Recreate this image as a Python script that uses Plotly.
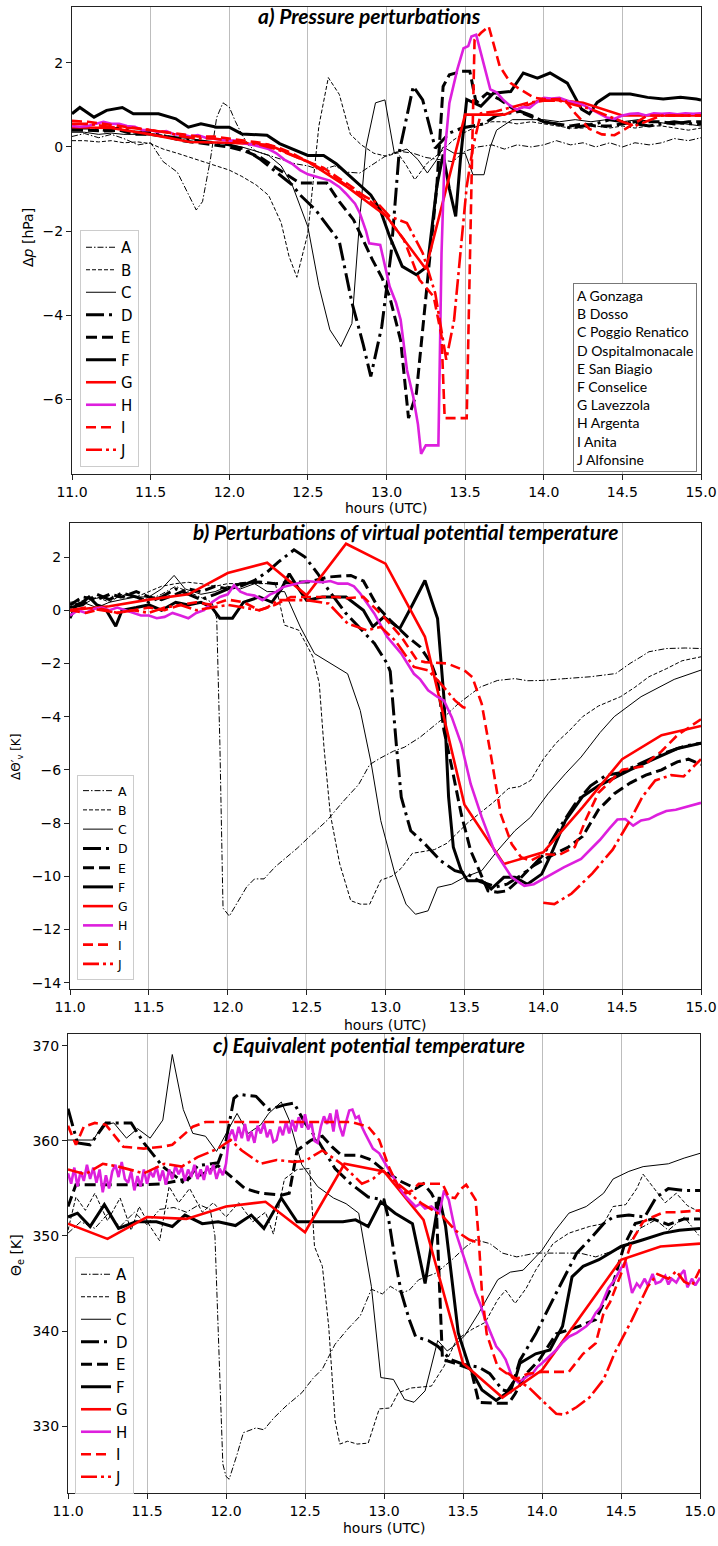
import plotly.graph_objects as go

# ---------------- DATA ----------------
SERIES = ["A", "B", "C", "D", "E", "F", "G", "H", "I", "J"]
STATIONS = ["A Gonzaga", "B Dosso", "C Poggio Renatico", "D Ospitalmonacale", "E San Biagio",
            "F Conselice", "G Lavezzola", "H Argenta", "I Anita", "J Alfonsine"]
X_TICKS = [11.0, 11.5, 12.0, 12.5, 13.0, 13.5, 14.0, 14.5, 15.0]
YTICKS_A = [-6, -4, -2, 0, 2]
YTICKS_B = [-14, -12, -10, -8, -6, -4, -2, 0, 2]
YTICKS_C = [330, 340, 350, 360, 370]

# ---- panel a: pressure perturbations [hPa]
pa_A_t = [11.0, 11.08, 11.17, 11.25, 11.33, 11.42, 11.5, 11.58, 11.67, 11.75,
          11.79, 11.83, 11.88, 11.92, 11.96, 12.0, 12.04, 12.08, 12.12, 12.17,
          12.25, 12.33, 12.42, 12.5, 12.58, 12.67, 12.75, 12.83, 12.92, 13.0,
          13.08, 13.17, 13.25, 13.33, 13.42, 13.5, 13.58, 13.67, 13.75, 13.83,
          13.92, 14.0, 14.08, 14.17, 14.25, 14.33, 14.42, 14.5, 14.58, 14.67,
          14.75, 14.83, 14.92, 15.0]
pa_A_v = [0.25, 0.32, 0.22, 0.3, 0.2, 0.05, 0.1, -0.35, -0.6, -1.2,
          -1.5, -1.3, -0.3, 0.7, 1.05, 0.95, 0.6, 0.3, 0.05, -0.1,
          -0.2, -0.3, -0.4, -0.45, -0.55, -0.45, -0.6, -0.62, -0.4, -0.2,
          -0.1, -0.15, -0.25, -0.3, -0.35, -0.1, 0.0, 0.05, -0.05, 0.05,
          0.0, 0.05, 0.15, 0.05, 0.1, 0.0, 0.1, 0.0, 0.1, 0.05,
          0.1, 0.2, 0.15, 0.22]
pa_B_t = [11.0, 11.08, 11.17, 11.25, 11.33, 11.42, 11.5, 11.58, 11.67, 11.75,
          11.83, 11.92, 12.0, 12.08, 12.17, 12.25, 12.33, 12.38, 12.43, 12.5,
          12.57, 12.63, 12.7, 12.77, 12.84, 12.92, 13.0, 13.07, 13.12, 13.18,
          13.26, 13.34, 13.42, 13.5, 13.58, 13.67, 13.75, 13.83, 13.92, 14.0,
          14.08, 14.17, 14.25, 14.33, 14.42, 14.5, 14.58, 14.67, 14.75, 14.83,
          14.92, 15.0]
pa_B_v = [0.15, 0.15, 0.12, 0.15, 0.1, 0.12, 0.08, -0.05, -0.15, -0.25,
          -0.35, -0.45, -0.55, -0.7, -0.9, -1.15, -1.8, -2.6, -3.1, -2.05,
          0.5, 1.65, 1.25, 0.3, 0.05, -0.15, -0.22, -0.14, -0.4, -0.78,
          -0.38, -0.14, 0.15, 0.35, 0.5, 0.6, 0.6, 0.55, 0.6, 0.55,
          0.5, 0.45, 0.45, 0.5, 0.45, 0.5, 0.45, 0.5, 0.5, 0.45,
          0.4, 0.45]
pa_C_t = [11.0, 11.08, 11.17, 11.25, 11.33, 11.42, 11.5, 11.58, 11.67, 11.75,
          11.83, 11.92, 12.0, 12.08, 12.17, 12.25, 12.33, 12.4, 12.5, 12.57,
          12.64, 12.71, 12.78, 12.83, 12.87, 12.93, 12.99, 13.05, 13.13, 13.2,
          13.26, 13.32, 13.36, 13.43, 13.5, 13.55, 13.62, 13.66, 13.7, 13.8,
          13.9, 14.0, 14.1, 14.2, 14.3, 14.4, 14.5, 14.6, 14.7, 14.8,
          14.9, 15.0]
pa_C_v = [0.35, 0.35, 0.3, 0.33, 0.3, 0.3, 0.28, 0.25, 0.22, 0.2,
          0.15, 0.1, 0.05, 0.0, -0.1, -0.2, -0.45, -0.9, -1.9, -3.3,
          -4.35, -4.75, -4.2, -1.7, 0.0, 1.05, 1.12, -0.15, -0.05, -0.3,
          -0.62, -0.3, 0.0, -0.15, -0.15, -0.66, -0.66, 0.0, 0.4, 0.65,
          0.65, 0.65, 0.6, 0.65, 0.6, 0.65, 0.6, 0.65, 0.6, 0.55,
          0.55, 0.5]
pa_D_t = [11.0, 11.1, 11.2, 11.3, 11.4, 11.5, 11.6, 11.7, 11.8, 11.9,
          12.0, 12.1, 12.2, 12.3, 12.4, 12.45, 12.55, 12.63, 12.7, 12.78,
          12.85, 12.9, 12.97, 13.03, 13.08, 13.17, 13.23, 13.31, 13.4, 13.48,
          13.55, 13.62, 13.7, 13.78, 13.85, 13.92, 14.0, 14.08, 14.17, 14.25,
          14.33, 14.42, 14.5, 14.58, 14.67, 14.75, 14.83, 14.92, 15.0]
pa_D_v = [0.45, 0.45, 0.4, 0.45, 0.35, 0.35, 0.25, 0.2, 0.15, 0.1,
          0.05, -0.05, -0.3, -0.6, -0.9, -1.14, -1.5, -1.9, -2.25, -3.7,
          -4.67, -5.46, -4.27, -2.5, -0.14, 1.44, 1.12, -0.03, 0.33, 0.45,
          0.5, 0.55, 0.75, 0.8, 0.85, 0.75, 0.6, 0.55, 0.45, 0.5,
          0.55, 0.65, 0.6, 0.55, 0.5, 0.55, 0.6, 0.55, 0.55]
pa_E_t = [11.0, 11.1, 11.2, 11.3, 11.4, 11.5, 11.6, 11.7, 11.8, 11.9,
          12.0, 12.1, 12.2, 12.3, 12.38, 12.45, 12.55, 12.62, 12.7, 12.79,
          12.85, 12.91, 12.97, 13.02, 13.09, 13.14, 13.19, 13.26, 13.32, 13.36,
          13.4, 13.48, 13.53, 13.57, 13.64, 13.72, 13.81, 13.9, 14.0, 14.08,
          14.17, 14.25, 14.33, 14.42, 14.5, 14.58, 14.67, 14.75, 14.83, 14.92,
          15.0]
pa_E_v = [0.4, 0.4, 0.38, 0.4, 0.3, 0.3, 0.25, 0.15, 0.1, 0.05,
          0.0, -0.1, -0.25, -0.5, -0.7, -0.86, -0.86, -0.86, -1.3, -1.73,
          -2.2, -2.68, -3.1, -3.56, -4.6, -6.45, -5.86, -3.3, -0.94, 1.44,
          1.72, 1.8, 1.8, 1.05, 1.28, 1.13, 0.9, 0.75, 0.6, 0.55,
          0.5, 0.55, 0.5, 0.5, 0.55, 0.6, 0.6, 0.6, 0.55, 0.6,
          0.6]
pa_F_t = [11.0, 11.05, 11.14, 11.22, 11.32, 11.39, 11.55, 11.66, 11.74, 11.82,
          11.92, 12.0, 12.08, 12.24, 12.32, 12.4, 12.5, 12.6, 12.68, 12.76,
          12.83, 12.9, 12.96, 13.02, 13.1, 13.19, 13.26, 13.32, 13.36, 13.4,
          13.44, 13.47, 13.51, 13.6, 13.68, 13.79, 13.87, 13.96, 14.04, 14.15,
          14.24, 14.29, 14.34, 14.42, 14.55, 14.66, 14.76, 14.87, 14.97, 15.0]
pa_F_v = [0.79, 0.94, 0.71, 0.87, 0.94, 0.79, 0.79, 0.67, 0.47, 0.55,
          0.47, 0.47, 0.31, 0.28, 0.08, -0.05, -0.2, -0.2, -0.4, -0.67,
          -0.9, -1.14, -1.5, -2.13, -2.84, -3.04, -2.84, -0.94, -0.18, -1.0,
          -1.65, -0.3, 1.13, 0.97, 1.28, 1.32, 1.76, 1.64, 1.76, 1.52,
          0.9, 0.79, 1.06, 1.26, 1.26, 1.18, 1.14, 1.18, 1.14, 1.12]
pa_G_t = [11.0, 11.25, 11.5, 11.75, 12.0, 12.25, 12.5, 12.75, 13.0, 13.25,
          13.5, 13.75, 14.0, 14.25, 14.5, 14.75, 15.0]
pa_G_v = [0.47, 0.45, 0.3, 0.12, 0.1, 0.05, -0.35, -0.95, -1.65, -2.9,
          0.77, 0.77, 1.15, 1.05, 0.75, 0.75, 0.75]
pa_H_t = [11.0, 11.05, 11.1, 11.15, 11.2, 11.25, 11.3, 11.35, 11.4, 11.45,
          11.5, 11.55, 11.6, 11.65, 11.7, 11.75, 11.8, 11.85, 11.9, 11.95,
          12.0, 12.05, 12.1, 12.15, 12.2, 12.25, 12.3, 12.35, 12.4, 12.45,
          12.5, 12.55, 12.6, 12.64, 12.7, 12.74, 12.8, 12.83, 12.87, 12.89,
          12.96, 13.0, 13.02, 13.06, 13.09, 13.13, 13.17, 13.2, 13.22, 13.25,
          13.33, 13.35, 13.37, 13.4, 13.45, 13.49, 13.52, 13.54, 13.57, 13.6,
          13.63, 13.66, 13.7, 13.74, 13.78, 13.83, 13.87, 13.91, 13.95, 14.0,
          14.05, 14.1, 14.15, 14.2, 14.25, 14.3, 14.35, 14.4, 14.45, 14.5,
          14.55, 14.6, 14.65, 14.7, 14.75, 14.8, 14.85, 14.9, 14.95, 15.0]
pa_H_v = [0.5, 0.48, 0.5, 0.55, 0.6, 0.55, 0.55, 0.5, 0.48, 0.4,
          0.4, 0.35, 0.38, 0.3, 0.3, 0.25, 0.28, 0.22, 0.2, 0.18,
          0.15, 0.15, 0.08, 0.05, 0.0, -0.05, -0.15, -0.3, -0.4, -0.55,
          -0.65, -0.7, -0.75, -0.8, -0.95, -1.1, -1.35, -1.57, -2.0, -2.29,
          -2.33, -3.0, -3.32, -3.7, -4.11, -5.3, -5.94, -6.6, -7.3, -7.1,
          -7.1, -2.52, -0.14, 1.05, 1.84, 2.35, 2.4, 2.63, 2.67, 2.24,
          1.8, 1.37, 1.3, 1.13, 1.0, 0.89, 0.95, 0.93, 1.05, 1.17,
          1.15, 1.17, 1.1, 1.05, 1.0, 0.9, 0.8, 0.7, 0.67, 0.75,
          0.79, 0.8, 0.75, 0.8, 0.79, 0.8, 0.78, 0.8, 0.79, 0.8]
pa_I_t = [11.0, 11.1, 11.2, 11.3, 11.4, 11.5, 11.6, 11.7, 11.8, 11.9,
          12.0, 12.1, 12.2, 12.3, 12.4, 12.5, 12.6, 12.7, 12.8, 12.9,
          13.0, 13.11, 13.21, 13.3, 13.35, 13.37, 13.51, 13.54, 13.56, 13.6,
          13.65, 13.72, 13.79, 13.85, 13.94, 14.02, 14.13, 14.2, 14.29, 14.37,
          14.45, 14.55, 14.66, 14.75, 14.85, 15.0]
pa_I_v = [0.62, 0.6, 0.55, 0.5, 0.45, 0.4, 0.35, 0.3, 0.25, 0.25,
          0.2, 0.15, 0.1, 0.0, -0.15, -0.35, -0.5, -0.75, -1.0, -1.3,
          -1.65, -2.2, -3.16, -3.56, -4.5, -6.45, -6.45, -0.94, 2.55, 2.71,
          2.87, 1.92, 1.52, 1.37, 1.17, 1.13, 1.14, 0.8, 0.43, 0.3,
          0.28, 0.5, 0.75, 0.75, 0.75, 0.75]
pa_J_t = [11.0, 11.1, 11.2, 11.3, 11.4, 11.5, 11.6, 11.7, 11.8, 11.9,
          12.0, 12.1, 12.2, 12.3, 12.4, 12.5, 12.6, 12.7, 12.8, 12.94,
          13.02, 13.13, 13.23, 13.31, 13.38, 13.43, 13.47, 13.51, 13.55, 13.6,
          13.7, 13.8, 13.9, 14.0, 14.1, 14.2, 14.3, 14.4, 14.5, 14.58,
          14.65, 14.75, 14.85, 15.0]
pa_J_v = [0.55, 0.55, 0.5, 0.45, 0.45, 0.4, 0.35, 0.25, 0.2, 0.2,
          0.15, 0.1, 0.05, -0.05, -0.2, -0.35, -0.55, -0.8, -1.05, -1.33,
          -1.65, -1.81, -2.52, -3.48, -5.06, -4.11, -2.44, -0.94, 0.0, 0.8,
          0.85, 0.95, 1.05, 1.1, 1.1, 1.0, 0.9, 0.75, 0.6, 0.5,
          0.6, 0.75, 0.75, 0.75]

# ---- panel b: perturbations of virtual potential temperature [K]
pb_A_t = [11.0, 11.08, 11.17, 11.25, 11.33, 11.42, 11.5, 11.58, 11.67, 11.75,
          11.83, 11.9, 11.93, 11.95, 11.97, 12.01, 12.06, 12.12, 12.17, 12.23,
          12.3, 12.37, 12.44, 12.52, 12.63, 12.73, 12.83, 12.9, 12.97, 13.05,
          13.12, 13.22, 13.35, 13.46, 13.54, 13.6, 13.71, 13.82, 13.9, 13.99,
          14.14, 14.3, 14.46, 14.55, 14.62, 14.67, 14.78, 14.9, 15.0]
pb_A_v = [0.3, 0.35, 0.45, 0.55, 0.45, 0.5, 0.4, 0.6, 0.9, 0.7,
          0.5, 0.3, -0.3, -5.0, -11.2, -11.5, -11.0, -10.4, -10.1, -10.1,
          -9.65, -9.3, -8.95, -8.5, -7.9, -7.2, -6.55, -5.8, -5.55, -5.3,
          -5.15, -4.77, -4.14, -3.52, -3.14, -2.89, -2.64, -2.57, -2.65, -2.64,
          -2.57, -2.5, -2.38, -2.0, -1.75, -1.56, -1.44, -1.42, -1.44]
pb_B_t = [11.0, 11.08, 11.17, 11.25, 11.33, 11.42, 11.5, 11.58, 11.67, 11.75,
          11.83, 11.92, 12.0, 12.08, 12.17, 12.25, 12.3, 12.36, 12.45, 12.54,
          12.58, 12.61, 12.65, 12.71, 12.78, 12.84, 12.9, 12.97, 13.04, 13.1,
          13.17, 13.31, 13.39, 13.52, 13.68, 13.78, 13.85, 13.92, 14.0, 14.08,
          14.17, 14.25, 14.35, 14.49, 14.58, 14.67, 14.78, 14.88, 15.0]
pb_B_v = [0.1, 0.2, 0.5, 0.3, 0.6, 0.5, 0.7, 0.9, 1.0, 1.05,
          1.0, 0.9, 1.0, 1.0, 1.0, 1.0, 1.05, -0.56, -0.75, -1.75,
          -2.75, -5.15, -7.66, -9.54, -10.92, -11.05, -11.05, -10.15, -10.0, -9.7,
          -9.14, -9.0, -8.76, -8.0, -7.24, -6.7, -6.63, -6.4, -5.6, -5.0,
          -4.5, -4.0, -3.6, -3.25, -2.9, -2.5, -2.2, -1.9, -1.75]
pb_C_t = [11.0, 11.08, 11.17, 11.25, 11.33, 11.42, 11.5, 11.58, 11.66, 11.73,
          11.83, 11.92, 12.0, 12.08, 12.17, 12.25, 12.36, 12.46, 12.55, 12.65,
          12.76, 12.84, 12.91, 12.97, 13.06, 13.13, 13.19, 13.27, 13.33, 13.42,
          13.5, 13.61, 13.71, 13.82, 13.92, 14.03, 14.14, 14.24, 14.36, 14.45,
          14.62, 14.83, 15.0]
pb_C_v = [0.2, 0.3, 0.1, 0.3, 0.4, 0.5, 0.5, 0.8, 1.31, 0.8,
          0.6, 0.7, 0.9, 0.8, 1.0, 0.7, 0.7, -0.63, -1.63, -2.0,
          -2.39, -3.77, -5.78, -7.91, -9.92, -11.05, -11.43, -11.3, -10.42, -10.3,
          -10.04, -9.79, -9.04, -8.29, -7.78, -6.9, -6.15, -5.52, -4.6, -4.0,
          -3.25, -2.6, -2.25]
pb_D_t = [11.0, 11.08, 11.17, 11.25, 11.33, 11.42, 11.5, 11.58, 11.67, 11.75,
          11.83, 11.92, 12.0, 12.08, 12.17, 12.25, 12.32, 12.42, 12.49, 12.57,
          12.64, 12.75, 12.83, 12.93, 13.01, 13.03, 13.07, 13.1, 13.16, 13.25,
          13.35, 13.44, 13.52, 13.6, 13.7, 13.77, 13.85, 13.92, 14.0, 14.1,
          14.2, 14.3, 14.4, 14.5, 14.6, 14.75, 14.9, 15.0]
pb_D_v = [0.1, 0.2, 0.6, 0.4, 0.65, 0.5, 0.3, 0.5, 0.8, 0.6,
          0.4, 0.6, 0.8, 0.9, 1.12, 1.44, 1.81, 2.27, 2.0, 1.38,
          0.75, -0.12, -0.62, -1.25, -2.0, -2.3, -5.15, -7.03, -8.29, -8.79,
          -9.42, -9.79, -9.92, -10.2, -10.4, -10.3, -10.0, -9.7, -9.2, -8.2,
          -7.3, -6.6, -6.2, -6.1, -5.8, -5.4, -5.1, -5.0]
pb_E_t = [11.0, 11.08, 11.17, 11.25, 11.33, 11.42, 11.5, 11.58, 11.67, 11.75,
          11.83, 11.92, 12.0, 12.08, 12.2, 12.3, 12.43, 12.51, 12.64, 12.78,
          12.86, 12.95, 13.03, 13.14, 13.22, 13.29, 13.33, 13.37, 13.42, 13.48,
          13.54, 13.61, 13.65, 13.71, 13.77, 13.84, 13.92, 14.03, 14.16, 14.25,
          14.35, 14.45, 14.55, 14.65, 14.75, 14.85, 14.92, 15.0]
pb_E_v = [0.2, 0.5, 0.4, 0.6, 0.5, 0.7, 0.5, 0.4, 0.6, 0.8,
          0.7, 0.9, 0.8, 1.0, 1.06, 1.0, 1.06, 1.06, 1.25, 1.31,
          1.1, 0.13, -0.38, -1.0, -1.38, -2.0, -2.64, -4.5, -5.9, -7.66,
          -9.04, -10.04, -10.55, -10.6, -10.55, -10.17, -9.67, -9.29, -8.9, -8.5,
          -7.5, -6.9, -6.5, -6.2, -6.0, -5.7, -5.6, -5.8]
pb_F_t = [11.0, 11.04, 11.08, 11.12, 11.17, 11.22, 11.29, 11.33, 11.42, 11.5,
          11.58, 11.67, 11.75, 11.83, 11.9, 11.95, 12.03, 12.1, 12.2, 12.28,
          12.34, 12.39, 12.45, 12.5, 12.6, 12.75, 12.86, 12.92, 12.99, 13.09,
          13.17, 13.25, 13.33, 13.37, 13.4, 13.43, 13.48, 13.52, 13.61, 13.67,
          13.75, 13.82, 13.9, 13.99, 14.05, 14.14, 14.2, 14.25, 14.35, 14.45,
          14.55, 14.7, 14.85, 15.0]
pb_F_v = [-0.3, 0.2, 0.3, 0.5, 0.2, 0.1, -0.6, 0.0, 0.1, 0.2,
          0.0, 0.3, 0.2, 0.3, 0.1, -0.3, -0.3, 0.3, 0.5, 0.3,
          0.8, 1.37, 0.8, 0.37, 0.5, 0.5, 0.0, -0.62, -0.25, -0.69,
          0.2, 1.12, -0.31, -3.26, -7.03, -8.91, -9.79, -10.17, -10.17, -10.48,
          -10.04, -10.04, -10.3, -9.92, -9.17, -7.91, -7.41, -7.0, -6.6, -6.3,
          -6.0, -5.6, -5.2, -5.0]
pb_G_t = [11.0, 11.25, 11.5, 11.75, 12.0, 12.25, 12.5, 12.75, 13.0, 13.25,
          13.5, 13.75, 14.0, 14.25, 14.5, 14.75, 15.0]
pb_G_v = [0.0, 0.15, 0.4, 0.6, 1.4, 1.79, 0.56, 2.5, 1.75, -1.0,
          -7.3, -9.54, -9.1, -7.4, -5.6, -4.7, -4.35]
pb_H_t = [11.0, 11.05, 11.1, 11.15, 11.2, 11.25, 11.3, 11.35, 11.4, 11.45,
          11.5, 11.55, 11.6, 11.65, 11.7, 11.75, 11.8, 11.85, 11.9, 11.95,
          12.0, 12.04, 12.08, 12.12, 12.17, 12.22, 12.27, 12.31, 12.35, 12.4,
          12.46, 12.5, 12.55, 12.6, 12.65, 12.7, 12.76, 12.8, 12.84, 12.88,
          12.93, 13.01, 13.1, 13.18, 13.22, 13.27, 13.33, 13.37, 13.42, 13.48,
          13.54, 13.61, 13.69, 13.8, 13.88, 13.94, 14.02, 14.13, 14.24, 14.3,
          14.36, 14.42, 14.47, 14.52, 14.57, 14.62, 14.67, 14.72, 14.78, 14.84,
          14.9, 14.95, 15.0]
pb_H_v = [-0.2, 0.0, -0.1, 0.05, 0.1, 0.0, 0.1, 0.0, -0.1, -0.2,
          -0.2, -0.3, -0.25, -0.1, -0.2, -0.3, -0.1, 0.0, 0.3, 0.5,
          0.6, 0.94, 0.7, 0.6, 0.55, 0.38, 0.6, 0.7, 0.87, 0.95,
          1.06, 1.1, 1.07, 1.05, 1.1, 1.0, 1.0, 0.9, 0.63, 0.3,
          -0.13, -1.0, -1.63, -2.39, -2.6, -3.01, -3.26, -3.39, -4.02, -5.02,
          -6.53, -7.78, -9.04, -10.04, -10.36, -10.3, -10.04, -9.67, -9.35, -9.0,
          -8.63, -8.2, -7.87, -7.85, -8.1, -7.9, -7.85, -7.7, -7.55, -7.5,
          -7.4, -7.3, -7.24]
pb_I_t = [11.0, 11.1, 11.2, 11.3, 11.4, 11.5, 11.6, 11.7, 11.8, 11.9,
          12.0, 12.1, 12.2, 12.3, 12.4, 12.5, 12.6, 12.7, 12.75, 12.86,
          12.99, 13.1, 13.2, 13.25, 13.39, 13.5, 13.55, 13.61, 13.67, 13.73,
          13.8, 13.86, 13.92, 14.0, 14.1, 14.2, 14.27, 14.35, 14.5, 14.63,
          14.75, 14.85, 15.0]
pb_I_v = [0.0, -0.1, 0.05, -0.1, 0.0, 0.1, 0.0, 0.2, 0.3, 0.2,
          0.4, 0.3, 0.0, 0.2, 0.5, 0.5, 0.5, 0.5, 0.45, 0.5,
          -0.25, -1.0, -1.88, -1.95, -2.0, -2.26, -2.51, -3.52, -5.52, -7.66,
          -8.79, -9.29, -9.42, -9.17, -9.2, -8.9, -7.87, -6.86, -6.0, -5.87,
          -5.3, -4.7, -4.1]
pb_J_t = [11.0, 11.1, 11.2, 11.3, 11.4, 11.5, 11.6, 11.7, 11.8, 11.9,
          12.0, 12.1, 12.2, 12.25, 12.32, 12.5, 12.64, 12.76, 12.88, 12.97,
          13.06, 13.18, 13.27, 13.35, 13.44, 13.49, 13.52, 13.75, 14.0, 14.07,
          14.18, 14.31, 14.44, 14.55, 14.63, 14.71, 14.81, 14.89, 15.0]
pb_J_v = [0.0, 0.1, 0.0, -0.1, 0.0, -0.1, 0.1, 0.2, 0.0, 0.1,
          0.2, 0.1, 0.0, 0.1, 0.38, 0.38, 0.25, -0.5, -0.75, -0.63,
          -1.13, -2.13, -2.26, -2.76, -3.39, -3.64, -3.7, None, -11.0, -11.05,
          -10.65, -9.9, -9.0, -7.9, -7.0, -6.4, -6.2, -6.25, -5.6]

# ---- panel c: equivalent potential temperature [K]
pc_A_t = [11.0, 11.08, 11.17, 11.25, 11.33, 11.42, 11.5, 11.58, 11.67, 11.75,
          11.83, 11.9, 11.93, 11.95, 11.98, 12.0, 12.02, 12.07, 12.11, 12.19,
          12.24, 12.3, 12.38, 12.48, 12.55, 12.61, 12.69, 12.77, 12.85, 12.92,
          12.99, 13.04, 13.11, 13.16, 13.22, 13.33, 13.43, 13.52, 13.58, 13.67,
          13.75, 13.84, 13.96, 14.09, 14.24, 14.34, 14.45, 14.53, 14.62, 14.72,
          14.8, 14.9, 15.0]
pc_A_v = [350.3, 351.5, 350.8, 352.3, 351.0, 352.5, 351.2, 352.8, 353.0, 352.5,
          353.3, 352.8, 350.0, 340.0, 326.0, 324.7, 324.4, 327.0, 329.3, 329.8,
          329.6, 330.8, 332.1, 333.5, 335.0, 336.0, 338.6, 340.2, 341.6, 344.4,
          343.9, 344.7, 344.0, 344.3, 345.4, 346.1, 347.5, 348.9, 349.6, 349.2,
          348.2, 347.8, 348.2, 348.2, 348.2, 347.8, 348.4, 348.9, 350.8, 351.7,
          350.6, 352.0, 349.9]
pc_B_t = [11.0, 11.05, 11.11, 11.17, 11.25, 11.33, 11.4, 11.45, 11.52, 11.58,
          11.64, 11.7, 11.77, 11.85, 11.92, 12.0, 12.08, 12.17, 12.25, 12.3,
          12.37, 12.45, 12.53, 12.56, 12.61, 12.65, 12.69, 12.72, 12.77, 12.83,
          12.9, 12.97, 13.04, 13.09, 13.17, 13.3, 13.38, 13.46, 13.56, 13.64,
          13.72, 13.77, 13.83, 13.9, 13.96, 14.07, 14.17, 14.3, 14.39, 14.45,
          14.53, 14.6, 14.64, 14.7, 14.78, 14.85, 14.92, 15.0]
pc_B_v = [350.6, 354.1, 352.7, 354.5, 351.6, 354.0, 350.6, 353.1, 351.0, 349.5,
          355.2, 353.5, 355.0, 352.5, 353.5, 352.0, 353.5, 351.5, 352.5, 350.2,
          356.0, 357.0, 357.1, 348.9, 346.8, 340.5, 330.6, 328.1, 328.4, 328.1,
          328.2, 331.8, 331.9, 333.5, 334.0, 334.2, 336.3, 339.1, 340.2, 340.9,
          343.3, 344.3, 342.9, 344.5, 346.4, 349.2, 350.3, 351.0, 351.3, 353.1,
          353.3, 355.0, 356.5, 355.2, 353.5, 354.5, 353.2, 352.5]
pc_C_t = [11.0, 11.06, 11.16, 11.22, 11.29, 11.37, 11.44, 11.52, 11.6, 11.66,
          11.73, 11.79, 11.87, 11.94, 11.99, 12.07, 12.14, 12.22, 12.27, 12.35,
          12.4, 12.48, 12.58, 12.68, 12.76, 12.84, 12.92, 12.98, 13.06, 13.13,
          13.19, 13.26, 13.34, 13.4, 13.45, 13.51, 13.6, 13.72, 13.8, 13.88,
          14.0, 14.08, 14.17, 14.28, 14.39, 14.45, 14.55, 14.64, 14.8, 14.9,
          15.0]
pc_C_v = [360.1, 360.1, 360.1, 361.7, 361.9, 360.3, 361.3, 360.3, 362.2, 369.1,
          363.3, 360.8, 360.5, 358.9, 360.5, 362.9, 360.8, 361.7, 362.9, 364.1,
          362.2, 357.5, 355.2, 354.0, 353.4, 352.4, 344.7, 335.1, 334.9, 332.8,
          332.5, 333.7, 339.0, 337.9, 338.5, 339.5, 341.9, 345.4, 346.2, 346.4,
          348.5, 350.5, 352.4, 353.1, 354.5, 356.0, 356.8, 357.3, 357.6, 358.2,
          358.7]
pc_D_t = [11.0, 11.06, 11.14, 11.24, 11.4, 11.48, 11.6, 11.74, 11.82, 11.95,
          12.0, 12.05, 12.08, 12.19, 12.27, 12.37, 12.43, 12.5, 12.58, 12.69,
          12.79, 12.9, 13.0, 13.03, 13.07, 13.11, 13.16, 13.2, 13.28, 13.34,
          13.42, 13.5, 13.6, 13.67, 13.75, 13.8, 13.86, 13.96, 14.09, 14.22,
          14.3, 14.39, 14.45, 14.55, 14.65, 14.72, 14.8, 14.9, 15.0]
pc_D_v = [363.4, 359.8, 359.6, 361.9, 361.9, 359.8, 357.3, 355.5, 357.4, 357.7,
          360.0, 364.5, 364.9, 364.7, 363.3, 363.8, 364.0, 361.9, 360.1, 357.1,
          355.5, 354.1, 353.8, 351.7, 347.5, 344.0, 341.2, 339.4, 339.0, 338.4,
          337.0, 336.5, 336.2, 335.5, 333.8, 333.6, 336.9, 339.7, 344.0, 348.2,
          349.6, 351.3, 352.0, 352.2, 352.0, 354.0, 355.0, 354.8, 354.8]
pc_E_t = [11.0, 11.05, 11.2, 11.35, 11.48, 11.6, 11.75, 11.85, 11.95, 12.05,
          12.12, 12.22, 12.35, 12.4, 12.45, 12.54, 12.61, 12.67, 12.73, 12.84,
          12.92, 13.0, 13.1, 13.2, 13.25, 13.3, 13.33, 13.37, 13.45, 13.55,
          13.6, 13.7, 13.79, 13.83, 13.9, 13.98, 14.09, 14.22, 14.34, 14.45,
          14.52, 14.59, 14.7, 14.8, 14.9, 15.0]
pc_E_v = [353.1, 355.4, 355.4, 355.4, 355.4, 355.5, 356.0, 356.5, 357.4, 356.0,
          355.0, 354.5, 354.3, 354.5, 359.0, 360.1, 360.5, 359.4, 358.5, 358.5,
          358.0, 356.9, 355.8, 355.0, 355.5, 354.5, 353.5, 337.0, 336.6, 336.0,
          332.5, 332.4, 332.4, 333.4, 335.5, 336.9, 339.7, 340.4, 341.2, 345.0,
          349.0, 351.3, 351.8, 351.2, 351.8, 351.8]
pc_F_t = [11.0, 11.06, 11.14, 11.23, 11.32, 11.43, 11.56, 11.66, 11.74, 11.85,
          11.95, 12.06, 12.16, 12.24, 12.35, 12.45, 12.53, 12.74, 12.82, 12.9,
          12.98, 13.07, 13.18, 13.26, 13.35, 13.39, 13.47, 13.54, 13.62, 13.71,
          13.77, 13.83, 13.86, 13.96, 14.05, 14.13, 14.19, 14.26, 14.36, 14.5,
          14.64, 14.77, 14.87, 15.0]
pc_F_v = [352.0, 352.4, 351.0, 353.3, 350.8, 351.5, 351.5, 351.0, 352.2, 351.3,
          351.5, 351.1, 352.2, 350.8, 354.0, 351.5, 351.5, 351.5, 351.7, 351.0,
          353.6, 352.4, 351.3, 345.0, 354.1, 351.0, 339.8, 336.2, 333.8, 332.7,
          333.4, 334.9, 336.6, 337.6, 338.0, 340.5, 345.7, 346.8, 347.5, 348.9,
          349.6, 350.3, 350.6, 350.8]
pc_G_t = [11.0, 11.25, 11.5, 11.75, 12.0, 12.25, 12.5, 12.75, 13.0, 13.25,
          13.5, 13.75, 14.0, 14.25, 14.5, 14.75, 15.0]
pc_G_v = [351.3, 349.7, 352.0, 351.8, 353.1, 353.6, 350.4, 357.6, 356.8, 351.7,
          336.6, 333.0, 335.9, 341.7, 347.5, 348.9, 349.2]
pc_H_t = [11.0, 11.02, 11.04, 11.06, 11.08, 11.1, 11.12, 11.14, 11.16, 11.18,
          11.2, 11.22, 11.24, 11.26, 11.28, 11.3, 11.32, 11.34, 11.36, 11.38,
          11.4, 11.42, 11.44, 11.46, 11.48, 11.5, 11.52, 11.54, 11.56, 11.58,
          11.6, 11.62, 11.64, 11.66, 11.68, 11.7, 11.72, 11.74, 11.76, 11.78,
          11.8, 11.82, 11.84, 11.86, 11.88, 11.9, 11.92, 11.94, 11.96, 11.98,
          12.0, 12.02, 12.04, 12.06, 12.08, 12.1, 12.12, 12.14, 12.16, 12.18,
          12.2, 12.22, 12.24, 12.26, 12.28, 12.3, 12.32, 12.34, 12.36, 12.38,
          12.4, 12.42, 12.44, 12.46, 12.48, 12.5, 12.52, 12.54, 12.56, 12.58,
          12.6, 12.62, 12.64, 12.66, 12.68, 12.7, 12.72, 12.74, 12.76, 12.78,
          12.8, 12.82, 12.84, 12.86, 12.88, 12.9, 12.93, 12.97, 13.0, 13.03,
          13.07, 13.1, 13.14, 13.17, 13.2, 13.23, 13.26, 13.3, 13.33, 13.35,
          13.38, 13.41, 13.45, 13.48, 13.52, 13.55, 13.58, 13.61, 13.64, 13.68,
          13.71, 13.74, 13.77, 13.81, 13.85, 13.88, 13.91, 13.94, 13.97, 14.0,
          14.04, 14.09, 14.13, 14.17, 14.22, 14.28, 14.31, 14.34, 14.37, 14.39,
          14.42, 14.46, 14.5, 14.53, 14.55, 14.57, 14.6, 14.62, 14.65, 14.67,
          14.7, 14.72, 14.75, 14.78, 14.8, 14.82, 14.85, 14.88, 14.9, 14.92,
          14.95, 14.97, 15.0]
pc_H_v = [356.6, 355.5, 357.2, 355.2, 356.8, 355.8, 357.5, 356.0, 357.2, 355.6,
          357.0, 354.6, 356.4, 355.0, 356.8, 357.5, 356.2, 357.8, 356.0, 355.6,
          356.8, 354.8, 356.3, 355.2, 357.0, 355.5, 356.8, 356.2, 357.3, 355.8,
          356.9, 355.4, 357.0, 356.0, 357.4, 356.5, 357.2, 355.8, 357.0, 356.2,
          357.5, 356.0, 357.0, 355.9, 357.4, 356.5, 357.5, 356.0, 357.1, 356.4,
          357.6, 360.5, 361.2, 360.0, 361.5, 360.3, 361.8, 360.0, 361.0, 359.8,
          361.6, 360.8, 361.9, 360.4, 361.2, 359.9, 360.1, 361.5, 360.6, 362.0,
          360.8, 362.2, 361.0, 362.5, 361.4, 362.8, 361.2, 362.0, 360.0, 359.8,
          361.5, 362.6, 361.8, 362.9, 361.0, 363.3, 361.5, 360.5, 362.0, 363.2,
          363.3, 362.4, 362.6, 361.5, 360.8, 360.1, 359.2, 358.7, 357.8, 357.0,
          355.9, 355.0, 354.1, 353.6, 353.1, 353.4, 352.9, 353.1, 352.7, 352.4,
          354.8, 353.8, 350.6, 349.0, 347.1, 345.5, 344.0, 342.8, 341.2, 339.6,
          338.4, 337.8, 337.0, 335.2, 334.6, 334.9, 335.3, 335.5, 336.2, 336.6,
          337.2, 338.0, 338.8, 339.4, 339.8, 340.5, 341.0, 341.9, 342.5, 343.3,
          344.5, 345.4, 346.6, 347.3, 345.8, 344.0, 345.0, 344.6, 345.5, 344.8,
          346.0, 345.0, 345.2, 345.8, 344.9, 345.5, 345.1, 346.0, 346.4, 344.6,
          345.5, 344.8, 345.6]
pc_I_t = [11.0, 11.05, 11.1, 11.17, 11.24, 11.3, 11.35, 11.48, 11.6, 11.66,
          11.72, 11.79, 11.87, 12.0, 12.2, 12.4, 12.6, 12.79, 12.9, 12.97,
          13.03, 13.09, 13.14, 13.18, 13.22, 13.3, 13.37, 13.41, 13.45, 13.49,
          13.52, 13.58, 13.6, 13.62, 13.65, 13.72, 13.83, 13.91, 14.0, 14.17,
          14.26, 14.34, 14.39, 14.43, 14.5, 14.57, 14.64, 14.7, 14.77, 14.85,
          14.92, 15.0]
pc_I_v = [361.6, 359.6, 361.5, 361.9, 361.7, 360.5, 359.4, 359.2, 359.4, 359.6,
          360.5, 361.5, 362.0, 362.0, 362.0, 362.0, 362.0, 362.0, 361.5, 360.1,
          357.3, 355.2, 354.5, 354.8, 355.5, 355.5, 355.5, 354.1, 354.0, 355.0,
          355.4, 353.8, 349.6, 344.0, 339.7, 336.2, 334.9, 335.5, 335.7, 335.7,
          337.6, 338.7, 341.9, 343.0, 346.0, 349.5, 351.5, 352.0, 352.5, 352.5,
          352.6, 352.7]
pc_J_t = [11.0, 11.05, 11.11, 11.22, 11.32, 11.48, 11.61, 11.72, 11.82, 11.95,
          12.03, 12.1, 12.22, 12.32, 12.43, 12.5, 12.61, 12.73, 12.8, 12.86,
          12.93, 12.99, 13.11, 13.24, 13.37, 13.45, 13.54, 13.58, 13.7, 13.78,
          13.85, 13.92, 14.0, 14.09, 14.14, 14.22, 14.3, 14.39, 14.46, 14.57,
          14.67, 14.73, 14.8, 14.85, 14.9, 14.95, 15.0]
pc_J_v = [357.0, 356.8, 356.5, 357.6, 357.3, 356.6, 357.6, 357.3, 358.3, 359.2,
          360.1, 359.0, 357.6, 358.0, 357.8, 357.9, 359.0, 357.6, 356.5, 355.5,
          356.0, 356.9, 355.2, 353.4, 352.1, 350.6, 349.6, 349.4, None, 335.6,
          334.8, 334.0, 332.7, 331.3, 331.2, 332.0, 333.0, 334.9, 337.7, 341.2,
          344.7, 346.0, 345.5, 346.3, 345.2, 344.8, 346.5]

PANEL_DATA = [
    {"A": (pa_A_t, pa_A_v), "B": (pa_B_t, pa_B_v), "C": (pa_C_t, pa_C_v), "D": (pa_D_t, pa_D_v),
     "E": (pa_E_t, pa_E_v), "F": (pa_F_t, pa_F_v), "G": (pa_G_t, pa_G_v), "H": (pa_H_t, pa_H_v),
     "I": (pa_I_t, pa_I_v), "J": (pa_J_t, pa_J_v)},
    {"A": (pb_A_t, pb_A_v), "B": (pb_B_t, pb_B_v), "C": (pb_C_t, pb_C_v), "D": (pb_D_t, pb_D_v),
     "E": (pb_E_t, pb_E_v), "F": (pb_F_t, pb_F_v), "G": (pb_G_t, pb_G_v), "H": (pb_H_t, pb_H_v),
     "I": (pb_I_t, pb_I_v), "J": (pb_J_t, pb_J_v)},
    {"A": (pc_A_t, pc_A_v), "B": (pc_B_t, pc_B_v), "C": (pc_C_t, pc_C_v), "D": (pc_D_t, pc_D_v),
     "E": (pc_E_t, pc_E_v), "F": (pc_F_t, pc_F_v), "G": (pc_G_t, pc_G_v), "H": (pc_H_t, pc_H_v),
     "I": (pc_I_t, pc_I_v), "J": (pc_J_t, pc_J_v)},
]

# ---------------- STYLE / LAYOUT ----------------
W, H = 718, 1546
TICK_FONT = "DejaVu Sans"
TITLE_FONT = "Lato, Roboto, sans-serif"

STYLES = {
    "A": dict(color="black", width=1.0, dash="6px,2px,1.5px,2px"),
    "B": dict(color="black", width=1.0, dash="4px,2px"),
    "C": dict(color="black", width=1.0, dash="solid"),
    "D": dict(color="black", width=3.0, dash="18px,5px,3px,5px"),
    "E": dict(color="black", width=3.0, dash="11px,5px"),
    "F": dict(color="black", width=3.0, dash="solid"),
    "G": dict(color="#ff0000", width=2.6, dash="solid"),
    "H": dict(color="#dd1fdd", width=2.6, dash="solid"),
    "I": dict(color="#ff0000", width=2.6, dash="10px,5px"),
    "J": dict(color="#ff0000", width=2.6, dash="16px,4px,3px,4px"),
}

# pixel geometry of the three panels
PANELS = [
    dict(x0=72, x1=701, y0=7, y1=474, yr=[-7.78, 3.33], yt=YTICKS_A,
         title="a) Pressure perturbations", tx=369, ty=15,
         ylab="Δ<i>p</i> [hPa]", ylx=28, yly=238, ylsize=14, xly=508,
         leg=(80, 230), legsize=15),
    dict(x0=70, x1=701, y0=523, y1=989, yr=[-14.24, 3.28], yt=YTICKS_B,
         title="b) Perturbations of virtual potential temperature", tx=405, ty=532,
         ylab="ΔΘ′<sub>v</sub> [K]", ylx=17, yly=757, ylsize=12, xly=1025,
         leg=(77, 775), legsize=12.5),
    dict(x0=68, x1=700, y0=1034, y1=1493, yr=[322.95, 371.26], yt=YTICKS_C,
         title="c) Equivalent potential temperature", tx=369, ty=1044,
         ylab="Θ<sub>e</sub> [K]", ylx=17, yly=1255, ylsize=14, xly=1528,
         leg=(75, 1257), legsize=15),
]


def fx(px):
    return px / W


def fy(py):
    return 1 - py / H


fig = go.Figure()
layout = dict(
    width=W, height=H, margin=dict(l=0, r=0, t=0, b=0, pad=0, autoexpand=False),
    paper_bgcolor="white", plot_bgcolor="white", showlegend=True,
)
annotations = []

for i, (p, data) in enumerate(zip(PANELS, PANEL_DATA)):
    sfx = "" if i == 0 else str(i + 1)
    legname = "legend" + sfx
    for key in SERIES:
        t, v = data[key]
        n = min(len(t), len(v))
        fig.add_trace(go.Scatter(
            x=t[:n], y=v[:n], mode="lines", name=key, line=STYLES[key],
            xaxis="x" + sfx, yaxis="y" + sfx, legend=legname,
            connectgaps=False, hoverinfo="skip",
        ))
    common = dict(showline=True, mirror=True, linecolor="#222222", linewidth=1,
                  ticks="outside", ticklen=5, tickcolor="#222222", zeroline=False,
                  automargin=False, ticklabeloverflow="allow",
                  tickfont=dict(family=TICK_FONT, size=14, color="black"))
    layout["xaxis" + sfx] = dict(
        domain=[fx(p["x0"]), fx(p["x1"])], anchor="y" + sfx, range=[11, 15],
        tickvals=X_TICKS, tickformat=".1f", showgrid=True, gridcolor="#bdbdbd",
        gridwidth=1, **common)
    layout["yaxis" + sfx] = dict(
        domain=[fy(p["y1"]), fy(p["y0"])], anchor="x" + sfx, range=p["yr"],
        tickvals=p["yt"], showgrid=False, **common)
    layout[legname] = dict(
        x=fx(p["leg"][0]), y=fy(p["leg"][1]), xanchor="left", yanchor="top",
        bgcolor="rgba(255,255,255,0.9)", bordercolor="#cccccc", borderwidth=1,
        font=dict(family=TICK_FONT, size=p["legsize"], color="black"),
        tracegroupgap=0, itemwidth=30,
    )
    annotations.append(dict(
        text="<b><i>" + p["title"] + "</i></b>", x=fx(p["tx"]), y=fy(p["ty"]),
        xref="paper", yref="paper", showarrow=False, xanchor="center", yanchor="middle",
        font=dict(family=TITLE_FONT, size=21, color="black")))
    annotations.append(dict(
        text=p["ylab"], x=fx(p["ylx"]), y=fy(p["yly"]), xref="paper", yref="paper",
        showarrow=False, textangle=-90, xanchor="center", yanchor="middle",
        font=dict(family=TICK_FONT, size=p["ylsize"], color="black")))
    annotations.append(dict(
        text="hours (UTC)", x=fx((p["x0"] + p["x1"]) / 2), y=fy(p["xly"]),
        xref="paper", yref="paper", showarrow=False, xanchor="center", yanchor="middle",
        font=dict(family=TICK_FONT, size=14, color="black")))

# station name box in panel a
annotations.append(dict(
    text="<br>".join(STATIONS), x=fx(697), y=fy(472), xref="paper", yref="paper",
    showarrow=False, xanchor="right", yanchor="bottom", align="left",
    bordercolor="#777777", borderwidth=1, borderpad=3, bgcolor="white",
    font=dict(family="Lato, sans-serif", size=14, color="black")))

layout["annotations"] = annotations
fig.update_layout(**layout)
fig.write_html(
    "out.html",
    config={"displayModeBar": False, "staticPlot": True},
    post_script="document.body.style.margin='0';document.body.style.padding='0';"
                "document.body.style.overflow='hidden';",
)
